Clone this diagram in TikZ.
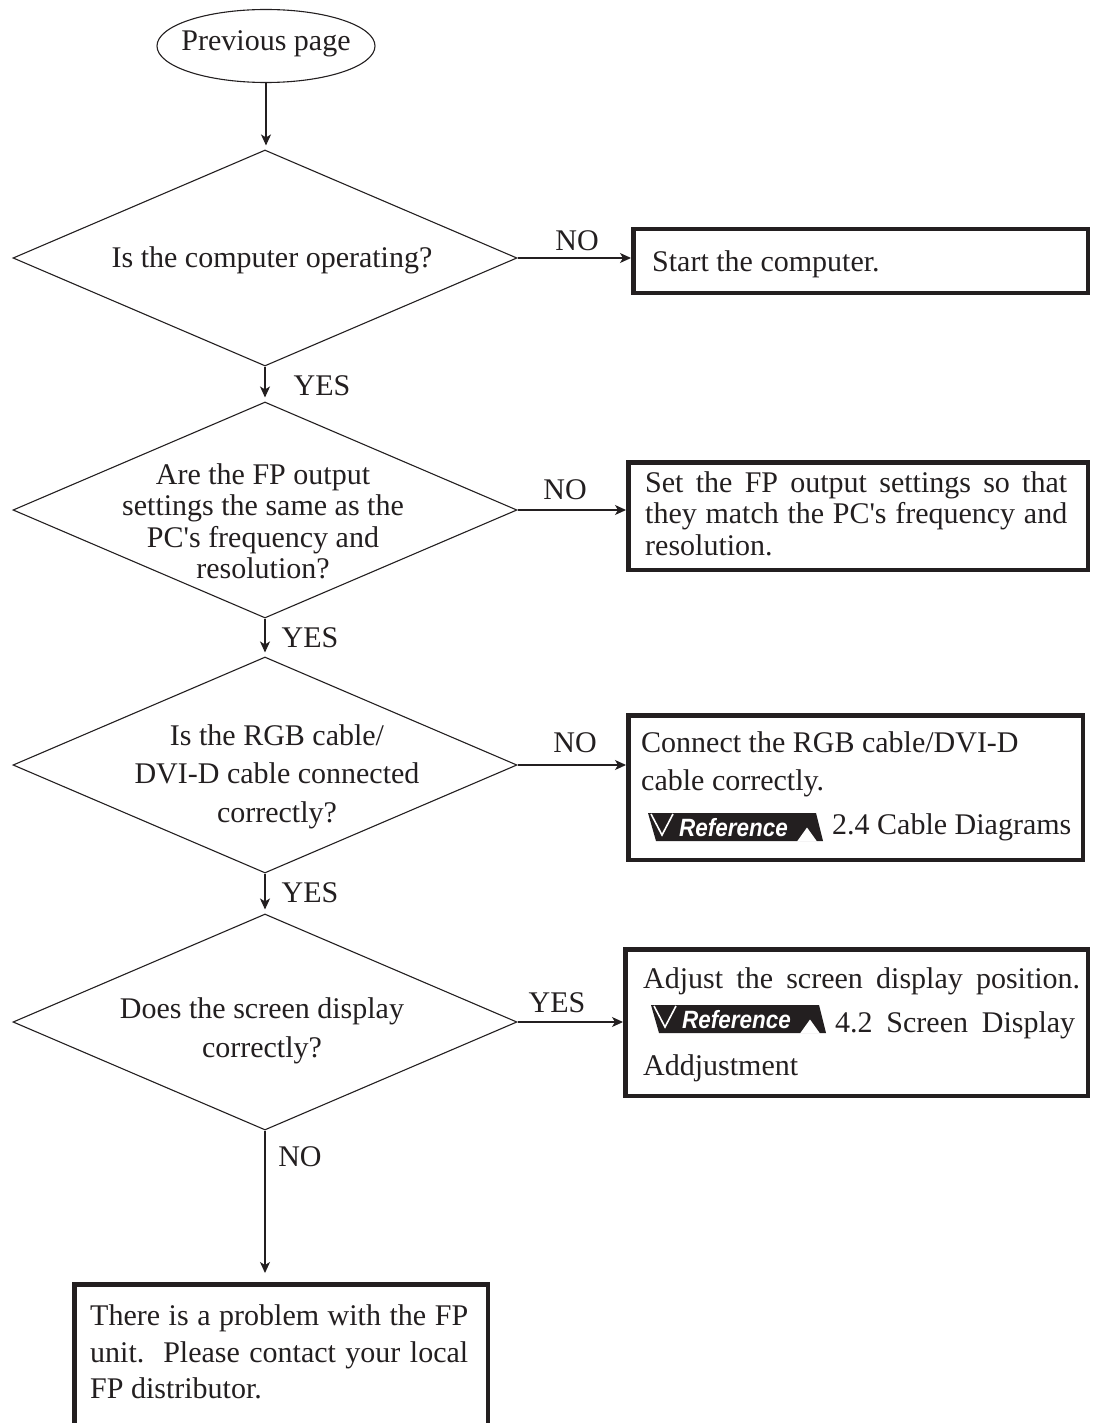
\documentclass[tikz,border=0pt]{standalone}
\usepackage{fontspec}
\usepackage{graphicx}
\setmainfont{Liberation Serif}
\newfontfamily\badgefont{Liberation Sans}
\usetikzlibrary{shapes.geometric,arrows.meta}
\definecolor{ink}{RGB}{35,31,32}

% Reference badge: #1 name of its text node, (#2,#3) top-left corner
\newcommand{\refbadge}[3]{%
  \begin{scope}[shift={(#2,#3)}]
    \fill[ink] (0,0) -- (168,0) -- (175,28) -- (8,28) -- cycle;
    \draw[white, line width=1.6pt, line join=miter] (3,1) -- (14,22) -- (25,1);
    \fill[white] (149,28.5) -- (159,14.5) -- (169,28.5) -- cycle;
    \node[inner sep=0, text=white, anchor=base west,
          font=\badgefont\bfseries\itshape\fontsize{25}{25}\selectfont] (#1) at (31,23)
          {\scalebox{0.9}[1]{Reference}};
  \end{scope}}

\begin{document}
\begin{tikzpicture}[x=1pt, y=-1pt,
  every node/.style={font=\fontsize{30}{36}\selectfont, text=ink},
  ell/.style={ellipse, draw=ink, line width=1.1pt, minimum width=218pt, minimum height=73pt, inner sep=0},
  dia/.style={diamond, draw=ink, line width=1.1pt, minimum width=504pt, minimum height=216pt, inner sep=0},
  boxn/.style={rectangle, draw=ink, line width=4.5pt, inner sep=0},
  txt/.style={inner sep=0, anchor=base west},
  ctxt/.style={inner sep=0, anchor=base},
  lbl/.style={inner sep=0},
  arr/.style={draw=ink, line width=1.1pt, -{Stealth[length=11pt, width=10pt, inset=3pt]}}
]
\useasboundingbox (0,0) rectangle (1095,1423);
\fill[white] (0,0) rectangle (1095,1423);
\clip (0,0) rectangle (1095,1423);

% start
\node[ell] (prev) at (266,46) {};
\node[lbl] (prevt) at (266,44) {Previous page};

% decisions
\node[dia] (d1) at (265,258) {};
\node[ctxt] (d1t) at (272,267) {Is the computer operating?};

\node[dia] (d2) at (265,510) {};
\node[ctxt] (d2a) at (263,484) {Are the FP output};
\node[ctxt] (d2b) at (263,515) {settings the same as the};
\node[ctxt] (d2c) at (263,547) {PC\textquotesingle s frequency and};
\node[ctxt] (d2d) at (263,578) {resolution?};

\node[dia] (d3) at (265,765) {};
\node[ctxt] (d3a) at (277,745) {Is the RGB cable/};
\node[ctxt] (d3b) at (277,783) {DVI-D cable connected};
\node[ctxt] (d3c) at (277,822) {correctly?};

\node[dia] (d4) at (265,1022) {};
\node[ctxt] (d4a) at (262,1018) {Does the screen display};
\node[ctxt] (d4b) at (262,1057) {correctly?};

% action boxes
\node[boxn, minimum width=454.5pt, minimum height=63.5pt] (b1) at (860.5,261) {};
\node[txt] (b1t) at (652,272) {Start the computer.};

\node[boxn, minimum width=459.5pt, minimum height=107.5pt] (b2) at (858,516) {};
\node[txt] (b2a) at (645,492) {\makebox[422pt][s]{Set the FP output settings so that}};
\node[txt] (b2b) at (645,523) {\makebox[422pt][s]{they match the PC\textquotesingle s frequency and}};
\node[txt] (b2c) at (645,555) {resolution.};

\node[boxn, minimum width=454.5pt, minimum height=144.5pt] (b3) at (855.5,787.5) {};
\node[txt] (b3a) at (641,752) {Connect the RGB cable/DVI-D};
\node[txt] (b3b) at (641,790) {cable correctly.};
\refbadge{r3}{648}{813}
\node[txt] (b3c) at (832,834) {2.4 Cable Diagrams};

\node[boxn, minimum width=462.5pt, minimum height=146.5pt] (b4) at (856.5,1022.5) {};
\node[txt] (b4a) at (643,988) {\makebox[437pt][s]{Adjust the screen display position.}};
\refbadge{r4}{651}{1005}
\node[txt] (b4b) at (835,1032) {\makebox[240pt][s]{4.2 Screen Display}};
\node[txt] (b4c) at (643,1075) {Addjustment};

\node[boxn, minimum width=413.5pt, minimum height=180pt] (b5) at (281,1374.25) {};
\node[txt] (b5a) at (90,1325) {\makebox[378pt][s]{There is a problem with the FP}};
\node[txt] (b5b) at (90,1362) {\makebox[378pt][s]{unit.\ \ Please contact your local}};
\node[txt] (b5c) at (90,1398) {FP distributor.};

% vertical flow
\draw[arr, shorten >=4pt] (prev.south) -- (prev.south |- d1.north);
\draw[arr, shorten >=4pt] (d1.south) -- (d2.north);
\draw[arr, shorten >=4pt] (d2.south) -- (d3.north);
\draw[arr, shorten >=4pt] (d3.south) -- (d4.north);
\draw[arr, shorten >=9pt] (d4.south) -- (d4.south |- b5.north);

% horizontal branches
\draw[arr] (d1.east) -- (d1.east -| b1.west);
\draw[arr] (d2.east) -- (d2.east -| b2.west);
\draw[arr] (d3.east) -- (d3.east -| b3.west);
\draw[arr] (d4.east) -- (d4.east -| b4.west);

% branch labels
\node[lbl] (n1) at (577,241) {NO};
\node[lbl] (n2) at (565,490) {NO};
\node[lbl] (n3) at (575,743) {NO};
\node[lbl] (y4) at (557,1003) {YES};
\node[lbl] (y1) at (322,386) {YES};
\node[lbl] (y2) at (310,638) {YES};
\node[lbl] (y3) at (310,893) {YES};
\node[lbl] (n4) at (300,1157) {NO};
\end{tikzpicture}
\end{document}
